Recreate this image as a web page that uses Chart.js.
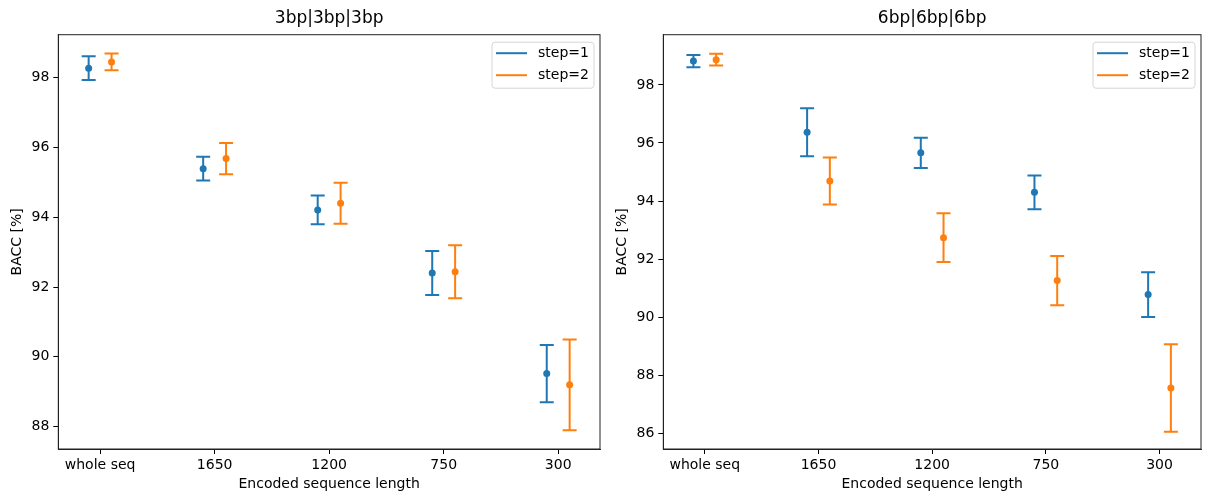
<!DOCTYPE html>
<html>
<head>
<meta charset="utf-8">
<script src="https://cdn.jsdelivr.net/npm/chart.js@4.4.0/dist/chart.umd.min.js"></script>
<style>
  body { margin: 0; background: #fff; }
  #wrap { position: relative; width: 1205px; height: 493px; }
  canvas { position: absolute; top: 0; }
</style>
</head>
<body>
<div id="wrap">
  <canvas id="left-chart" width="605" height="493" style="left:0"></canvas>
  <canvas id="right-chart" width="600" height="493" style="left:605px"></canvas>
</div>
<script>
const categories = ['whole seq', '1650', '1200', '750', '300'];
const seriesNames = ['step=1', 'step=2'];
const yTicksLeft = [88, 90, 92, 94, 96, 98];
const yTicksRight = [86, 88, 90, 92, 94, 96, 98];

// 3bp|3bp|3bp
const left3bpStep1 = [98.27, 95.39, 94.21, 92.40, 89.52];
const left3bpStep1Err = [0.34, 0.34, 0.41, 0.63, 0.82];
const left3bpStep2 = [98.45, 95.68, 94.40, 92.44, 89.20];
const left3bpStep2Err = [0.24, 0.45, 0.59, 0.76, 1.30];

// 6bp|6bp|6bp
const right6bpStep1 = [98.82, 96.37, 95.66, 94.30, 90.78];
const right6bpStep1Err = [0.21, 0.83, 0.52, 0.58, 0.77];
const right6bpStep2 = [98.87, 94.69, 92.74, 91.26, 87.56];
const right6bpStep2Err = [0.20, 0.81, 0.84, 0.85, 1.51];

const seriesColors = ['#1f77b4', '#ff7f0e'];
const seriesOffsets = [-0.1, 0.1];
const FONT = '"DejaVu Sans", sans-serif';

// matplotlib style error bars, drawn under the markers
const errorBarPlugin = {
    id: 'errorBars',
    beforeDatasetsDraw(chart) {
        const ctx = chart.ctx;
        const xs = chart.scales.x;
        const ys = chart.scales.y;
        chart.data.datasets.forEach(ds => {
            ctx.save();
            ctx.strokeStyle = ds.backgroundColor;
            ctx.lineWidth = 2;
            ds.data.forEach((p, i) => {
                const err = ds.errors[i];
                const px = xs.getPixelForValue(p.x);
                const top = ys.getPixelForValue(p.y + err);
                const bot = ys.getPixelForValue(p.y - err);
                ctx.beginPath();
                ctx.moveTo(px, top);
                ctx.lineTo(px, bot);
                ctx.moveTo(px - 7, top);
                ctx.lineTo(px + 7, top);
                ctx.moveTo(px - 7, bot);
                ctx.lineTo(px + 7, bot);
                ctx.stroke();
            });
            ctx.restore();
        });
    }
};

// full box around the plot area
const framePlugin = {
    id: 'frame',
    afterDatasetsDraw(chart) {
        const { ctx, chartArea } = chart;
        ctx.save();
        ctx.strokeStyle = '#222';
        ctx.lineWidth = 1;
        ctx.strokeRect(chartArea.left, chartArea.top,
            chartArea.right - chartArea.left, chartArea.bottom - chartArea.top);
        ctx.restore();
    }
};

// legend box in the upper right corner of the axes
const boxLegendPlugin = {
    id: 'boxLegend',
    afterDraw(chart) {
        const { ctx, chartArea } = chart;
        const w = 102, h = 46, r = 3;
        const x0 = chartArea.right - 6 - w;
        const y0 = chartArea.top + 7.5;
        ctx.save();
        ctx.beginPath();
        ctx.moveTo(x0 + r, y0);
        ctx.arcTo(x0 + w, y0, x0 + w, y0 + h, r);
        ctx.arcTo(x0 + w, y0 + h, x0, y0 + h, r);
        ctx.arcTo(x0, y0 + h, x0, y0, r);
        ctx.arcTo(x0, y0, x0 + w, y0, r);
        ctx.closePath();
        ctx.fillStyle = 'rgba(255,255,255,0.8)';
        ctx.fill();
        ctx.strokeStyle = '#d6d6d6';
        ctx.lineWidth = 1;
        ctx.stroke();
        seriesNames.forEach((name, i) => {
            const y = y0 + 11 + i * 22;
            ctx.strokeStyle = seriesColors[i];
            ctx.lineWidth = 2;
            ctx.beginPath();
            ctx.moveTo(x0 + 4, y);
            ctx.lineTo(x0 + 35, y);
            ctx.stroke();
            ctx.fillStyle = '#000';
            ctx.font = '14px ' + FONT;
            ctx.textBaseline = 'middle';
            ctx.textAlign = 'left';
            ctx.fillText(name, x0 + 46, y);
        });
        ctx.restore();
    }
};

function buildDataset(index, values, errors) {
    return {
        label: seriesNames[index],
        data: values.map((v, i) => ({ x: i + seriesOffsets[index], y: v })),
        errors: errors,
        backgroundColor: seriesColors[index],
        borderColor: seriesColors[index],
        pointRadius: 3.5,
        pointBorderWidth: 0,
        showLine: false,
    };
}

function makeChart(canvasId, title, datasets, yMin, yMax, yTicks, padRight) {
    return new Chart(document.getElementById(canvasId), {
        type: 'scatter',
        data: { datasets: datasets },
        options: {
            responsive: false,
            animation: false,
            layout: { padding: { left: 0, right: padRight, top: 0, bottom: 0 } },
            plugins: {
                legend: { display: false },
                tooltip: { enabled: false },
                title: {
                    display: true,
                    text: title,
                    fullSize: false,
                    color: '#000',
                    font: { family: FONT, size: 17, weight: 'normal', lineHeight: 1.2 },
                    padding: { top: 8, bottom: 6.3 },
                },
            },
            scales: {
                x: {
                    type: 'linear',
                    min: -0.365,
                    max: 4.365,
                    afterFit: s => { s.height = 44; },
                    afterBuildTicks: s => { s.ticks = categories.map((c, i) => ({ value: i })); },
                    ticks: {
                        color: '#000',
                        padding: 3,
                        maxRotation: 0,
                        font: { family: FONT, size: 14 },
                        callback: v => categories[v],
                    },
                    grid: { drawOnChartArea: false, drawTicks: true, tickLength: 5, tickColor: '#000' },
                    border: { display: true, color: '#222' },
                    title: {
                        display: true,
                        text: 'Encoded sequence length',
                        color: '#000',
                        font: { family: FONT, size: 14 },
                        padding: { top: 0, bottom: 0 },
                    },
                },
                y: {
                    min: yMin,
                    max: yMax,
                    afterFit: s => { s.width = 58.3; },
                    afterBuildTicks: s => { s.ticks = yTicks.map(v => ({ value: v })); },
                    ticks: {
                        color: '#000',
                        padding: 4,
                        font: { family: FONT, size: 14 },
                    },
                    grid: { drawOnChartArea: false, drawTicks: true, tickLength: 5, tickColor: '#000' },
                    border: { display: true, color: '#222' },
                    title: {
                        display: true,
                        text: 'BACC [%]',
                        color: '#000',
                        font: { family: FONT, size: 14 },
                        padding: { top: 9, bottom: 0 },
                    },
                },
            },
        },
        plugins: [errorBarPlugin, framePlugin, boxLegendPlugin],
    });
}

makeChart('left-chart', '3bp|3bp|3bp', [
    buildDataset(0, left3bpStep1, left3bpStep1Err),
    buildDataset(1, left3bpStep2, left3bpStep2Err),
], 87.36, 99.23, yTicksLeft, 5);

makeChart('right-chart', '6bp|6bp|6bp', [
    buildDataset(0, right6bpStep1, right6bpStep1Err),
    buildDataset(1, right6bpStep2, right6bpStep2Err),
], 85.46, 99.73, yTicksRight, 1);
</script>
</body>
</html>
